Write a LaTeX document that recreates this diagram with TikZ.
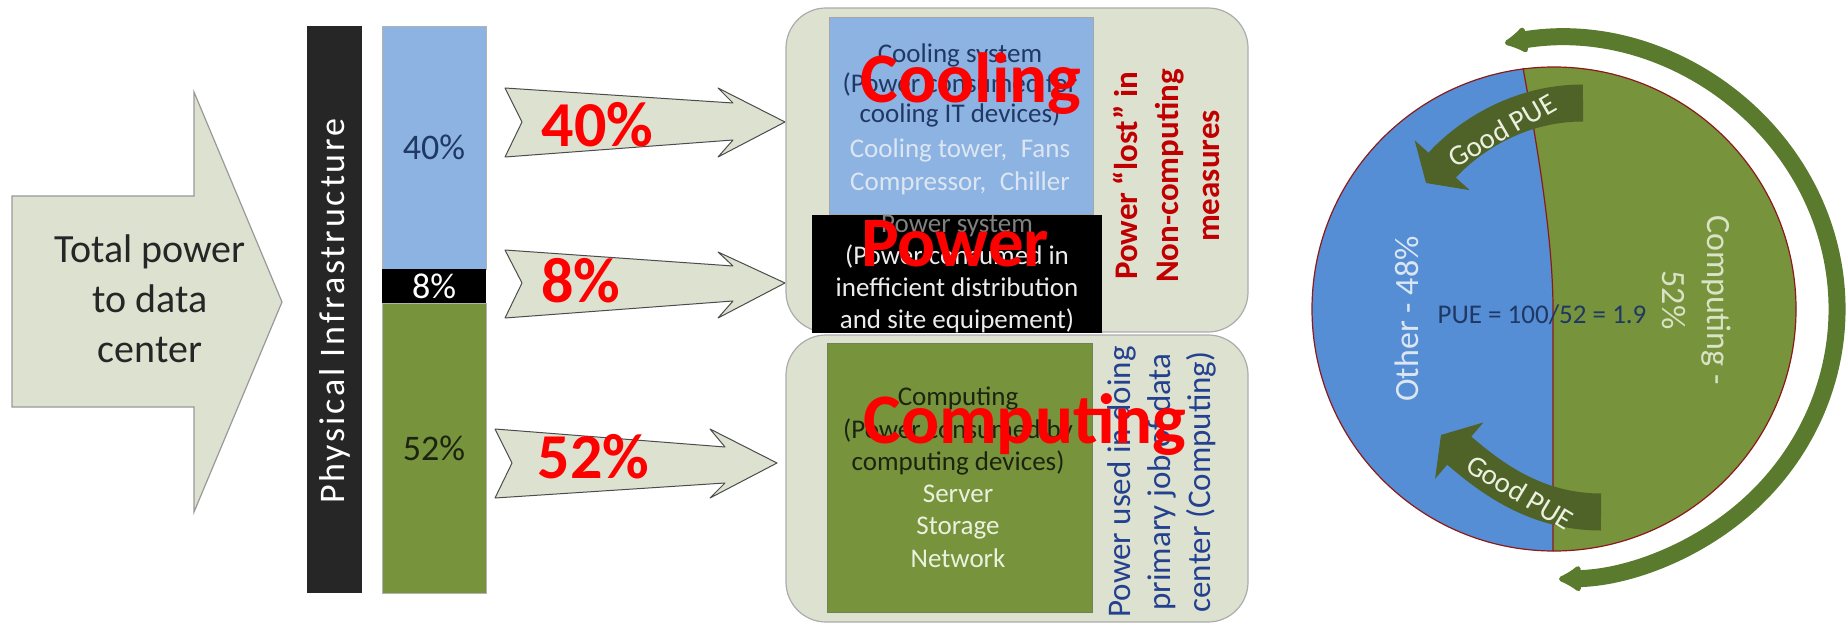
\documentclass[tikz,border=0pt]{standalone}
\usepackage{fontspec}
\setmainfont{Carlito}
\newfontfamily\spacedfont{Carlito}[LetterSpace=8.0]
\usetikzlibrary{arrows.meta}

\definecolor{panelfill}{HTML}{DDE1D0}
\definecolor{coolblue}{HTML}{8DB3E2}
\definecolor{pieblue}{HTML}{558ED5}
\definecolor{leafgreen}{HTML}{77933C}
\definecolor{darkolive}{HTML}{4F6228}
\definecolor{ringgreen}{HTML}{5A7A2E}
\definecolor{navy}{HTML}{1F3864}
\definecolor{lostred}{HTML}{C00000}
\definecolor{usedblue}{HTML}{24418F}
\definecolor{paleblue}{HTML}{DCE6F2}
\definecolor{palegreen}{HTML}{EBF1DE}
\definecolor{darktext}{HTML}{1C2410}
\definecolor{barblack}{HTML}{262626}
\definecolor{divred}{HTML}{8B1A1A}

\begin{document}
\begin{tikzpicture}[x=1pt, y=-1pt,
  panel/.style={draw=gray!65, fill=panelfill, line width=1.2pt, rounded corners=40pt},
  flowarrow/.style={draw=black!70, fill=panelfill, line width=1pt, line join=round},
  pct/.style={text=red, font=\bfseries\fontsize{64}{64}\selectfont, inner sep=0pt, anchor=base},
  bigword/.style={text=red, font=\bfseries\fontsize{71}{71}\selectfont, inner sep=0pt, anchor=base},
  boxtext/.style={align=center, inner sep=0pt, font=\fontsize{27}{30}\selectfont},
  sidetext/.style={align=center, inner sep=0pt, rotate=90},
  barseg/.style={minimum width=104pt, inner sep=0pt, outer sep=0pt, font=\fontsize{36}{36}\selectfont},
  goodpue/.style={draw=darkolive, line width=37pt, -{Triangle[length=24pt,width=74pt,line width=1pt]}},
  puetext/.style={text=palegreen, font=\fontsize{29}{29}\selectfont, inner sep=0pt}]
  \useasboundingbox (0,0) rectangle (1846,628);

  % Total power arrow
  \draw[draw=gray!80, fill=panelfill, line width=1.2pt]
    (12,196) -- (194,196) -- (194,92) -- (282,302) -- (194,512) -- (194,407) -- (12,407) -- cycle;
  \node[align=center, inner sep=0pt, text=barblack, font=\fontsize{40}{50}\selectfont] (total) at (150,299)
    {Total power\\to data\\center};

  % Physical infrastructure bar
  \fill[barblack] (307,26) rectangle (362,593);
  \node[rotate=90, text=white, inner sep=0pt, font=\spacedfont\fontsize{36}{36}\selectfont] (phys) at (334.5,311)
    {Physical Infrastructure};

  % Stacked shares
  \node[barseg, draw=gray!60, fill=coolblue, minimum height=243pt, text=navy] (barcool) at (434,147.5) {40\%};
  \node[barseg, fill=black, minimum height=34pt, text=white] (barpower) at (434,286) {8\%};
  \node[barseg, draw=gray!60, fill=leafgreen, minimum height=290pt, text=darktext] (barcomp) at (434,448) {52\%};

  % Split arrows
  \draw[flowarrow] (505,88) -- (733,103) -- (718,88) -- (785,122) -- (718,157) -- (733,140) -- (505,157) -- (522,122) -- cycle;
  \draw[flowarrow] (505,250) -- (733,266) -- (718,252) -- (785,283) -- (718,318) -- (733,301) -- (505,318) -- (522,283) -- cycle;
  \draw[flowarrow] (495,429) -- (725,447) -- (710,429) -- (777,463) -- (710,498) -- (725,483) -- (495,498) -- (512,463) -- cycle;
  \node[pct] (pctcool) at (597.5,147) {40\%};
  \node[pct] (pctpower) at (581,302) {8\%};
  \node[pct] (pctcomp) at (593.5,478) {52\%};

  % Non-computing panel
  \draw[panel] (786,8) rectangle (1248,332);
  \filldraw[draw=gray!70, fill=coolblue, line width=1pt] (829,18) rectangle (1093,215);
  \fill[black] (812,215) rectangle (1102,333);
  \node[boxtext, text=navy] (cooltxt) at (960,85)
    {Cooling system\\(Power consumed for\\cooling IT devices)};
  \node[boxtext, text=paleblue, font=\fontsize{27}{33}\selectfont] (coolitems) at (960,167)
    {Cooling tower,\enspace Fans\\Compressor,\enspace Chiller};
  \node[boxtext, text=gray!15, font=\fontsize{27}{31.7}\selectfont] (powertxt) at (957,274)
    {\textcolor{gray}{Power system}\\(Power consumed in\\inefficient distribution\\and site equipement)};
  \node[sidetext, text=lostred, font=\bfseries\fontsize{33}{41}\selectfont] (lost) at (1166,176)
    {Power “lost” in\\Non-computing\\measures};
  \node[bigword] (coolword) at (971,103) {Cooling};
  \node[bigword] (powerword) at (955,267) {Power};

  % Computing panel
  \draw[panel] (786,335) rectangle (1248,622);
  \filldraw[draw=darkolive!80, fill=leafgreen, line width=1pt] (827,343) rectangle (1092,612);
  \node[boxtext, text=darktext, font=\fontsize{27}{32.4}\selectfont] (comptxt) at (958,431)
    {Computing\\(Power consumed by\\computing devices)};
  \node[boxtext, text=palegreen, font=\fontsize{27}{32.4}\selectfont] (compitems) at (958,526)
    {Server\\Storage\\Network};
  \node[sidetext, text=usedblue, font=\fontsize{33}{40}\selectfont] (used) at (1162,482)
    {Power used in doing\\primary job of data\\center (Computing)};
  \node[bigword] (compword) at (1025,443) {Computing};

  % PUE pie
  \begin{scope}
    \clip (1554,309) circle[radius=242];
    \fill[pieblue] (1300,50) rectangle (1810,570);
    \fill[leafgreen] (1523,50) -- (1523,68) .. controls (1538,150) and (1553,240) .. (1553,310)
      -- (1553,570) -- (1810,570) -- (1810,50) -- cycle;
  \end{scope}
  \draw[divred, line width=1.2pt] (1523,68) .. controls (1538,150) and (1553,240) .. (1553,310) -- (1553,551);
  \draw[divred, line width=1.2pt] (1554,309) circle[radius=242];

  % Ring arrow
  \draw[ringgreen, line width=17pt, {Latex[round,length=26pt,width=32pt,line width=6pt]}-{Latex[round,length=26pt,width=32pt,line width=6pt]}]
    (1504.9,43.1) arc[start angle=-100, end angle=89, x radius=283, y radius=270];

  % Good PUE arrows
  \draw[goodpue] (1583,103) .. controls (1515,103) and (1465,140) .. (1426,183);
  \draw[goodpue] (1601,512) .. controls (1535,512) and (1490,477) .. (1441,435);
  \node[puetext, rotate=30] (goodtop) at (1502,130) {Good PUE};
  \node[puetext, rotate=-31] (goodbot) at (1520,492) {Good PUE};

  % Pie labels
  \node[rotate=90, inner sep=0pt, text=paleblue, font=\fontsize{34}{34}\selectfont] (other) at (1407,319) {Other - 48\%};
  \node[rotate=-90, align=center, inner sep=0pt, text=palegreen!85!leafgreen, font=\fontsize{34}{45}\selectfont] (compshare) at (1697,300)
    {Computing -\\52\%};
  \node[anchor=base, inner sep=0pt, text=navy, font=\fontsize{27}{27}\selectfont] (pue) at (1542,323) {PUE = 100/52 = 1.9};
\end{tikzpicture}
\end{document}
